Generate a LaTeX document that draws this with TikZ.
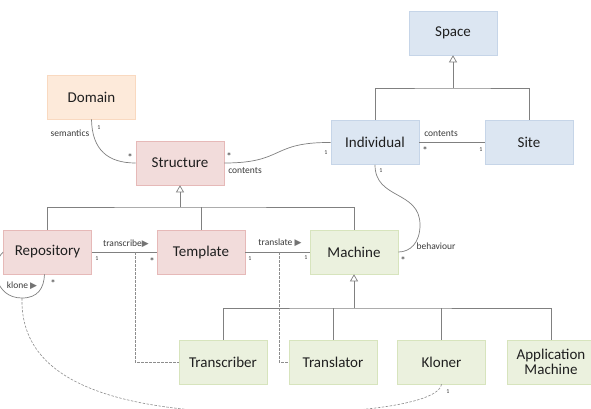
\documentclass[tikz,border=0pt]{standalone}
\usepackage{fontspec}
\setmainfont{Carlito}
\newfontfamily\symfont{DejaVu Sans}
\usetikzlibrary{arrows.meta}
\definecolor{txt}{HTML}{1F1F1F}
\definecolor{lbl}{HTML}{3A3A3A}
\definecolor{ln}{HTML}{808080}
\definecolor{orF}{HTML}{FDEADA}
\definecolor{orD}{HTML}{F9D9C0}
\definecolor{rdF}{HTML}{F2DCDB}
\definecolor{rdD}{HTML}{E6B9B8}
\definecolor{blF}{HTML}{DCE6F2}
\definecolor{blD}{HTML}{C6D5E8}
\definecolor{grF}{HTML}{EBF1DE}
\definecolor{grD}{HTML}{D7E4BD}
\tikzset{
  box/.style={draw, minimum width=88pt, minimum height=44pt, inner sep=0pt,
    font=\fontsize{15}{17}\selectfont, text=txt, line width=0.6pt, align=center},
  orbox/.style={box, fill=orF, draw=orD},
  rdbox/.style={box, fill=rdF, draw=rdD},
  blbox/.style={box, fill=blF, draw=blD},
  grbox/.style={box, fill=grF, draw=grD},
  conn/.style={draw=ln, line width=0.7pt},
  genarrow/.style={conn, -{Triangle[open, length=7pt, width=8pt, fill=white]}},
  dash line/.style={draw=ln!90, line width=0.6pt, dash pattern=on 2.5pt off 1.5pt},
  small/.style={inner sep=0pt, text=lbl, font=\fontsize{9.5}{11}\selectfont},
  mult/.style={inner sep=0pt, text=lbl, font=\fontsize{6}{7}\selectfont},
  star/.style={inner sep=0pt, text=lbl, font=\fontsize{11}{12}\selectfont},
}
\newcommand{\tri}{{\symfont\fontsize{9}{10}\selectfont\textcolor{ln!90!black}{▶}}}
\begin{document}
\begin{tikzpicture}[x=1pt,y=-1pt]
\useasboundingbox (0,0) rectangle (591,408);
\clip (0,0) rectangle (591,408);
\fill[white] (0,0) rectangle (591,408);

% boxes
\node[blbox] (space) at (453,33) {Space};
\node[orbox] (domain) at (91.5,97) {Domain};
\node[rdbox] (struct) at (180,163) {Structure};
\node[blbox] (ind) at (375,142.5) {Individual};
\node[blbox] (site) at (529,142.5) {Site};
\node[rdbox] (repo) at (47.5,252) {Repository};
\node[rdbox] (templ) at (201,252) {Template};
\node[grbox] (mach) at (354,252) {Machine};
\node[grbox] (transcr) at (223,362) {Transcriber};
\node[grbox] (transl) at (333,362) {Translator};
\node[grbox] (kloner) at (441.5,362) {Kloner};
\node[grbox] (appm) at (551,362) {Application\\[-2pt]Machine};

% generalizations
\coordinate (spj) at (453,88);
\draw[conn] (ind.north) |- (spj) -| (site.north);
\draw[genarrow] (spj) -- (space.south);

\coordinate (stj) at (180,207);
\draw[conn] (repo.north) |- (stj) -| (mach.north);
\draw[conn] (templ.north) -- (templ.north |- stj);
\draw[genarrow] (stj) -- (struct.south);

\coordinate (mj) at (354,308);
\draw[conn] (transcr.north) |- (mj) -| (appm.north);
\draw[conn] (transl.north) -- (transl.north |- mj);
\draw[conn] (kloner.north) -- (kloner.north |- mj);
\draw[genarrow] (mj) -- (mach.south);

% associations
\draw[conn] (domain.south) .. controls (92,150) and (108,163) .. (struct.west);
\node[small] (lsem) at (70,133) {semantics};
\node[mult] (m1) at (99,128) {1};
\node[star] (m2) at (130,158) {*};

\draw[conn] (struct.east) .. controls (285,163) and (270,142) .. (ind.west);
\node[star] (m3) at (229,157) {*};
\node[small] (lcont1) at (245,171) {contents};
\node[mult] (m4) at (326,153) {1};

\draw[conn] (ind.east) -- (site.west);
\node[small] (lcont2) at (441,134) {contents};
\node[star] (m5) at (425,151) {*};
\node[mult] (m6) at (481,150) {1};

\draw[conn] (ind.south) .. controls (375,200) and (420,190) .. (420,225)
  .. controls (420,243) and (410,252) .. (mach.east);
\node[mult] (m7) at (381,171) {1};
\node[small] (lbeh) at (436,246) {behaviour};
\node[star] (m8) at (403,261) {*};

\draw[conn] (repo.east) -- (templ.west);
\node[small] (ltrc) at (126,244) {transcribe\tri};
\node[mult] (m9) at (97,259) {1};
\node[star] (m10) at (152,262) {*};

\draw[conn] (templ.east) -- (mach.west);
\node[small] (ltrl) at (280,243) {translate \tri};
\node[mult] (m11) at (250,259) {1};
\node[mult] (m12) at (306,258) {1};

% klone self loop
\coordinate (kl) at (22,298);
\draw[conn] (repo.west) .. controls (-10,264) and (-6,298) .. (kl)
  .. controls (38,298) and (44,288) .. ([xshift=-3pt]repo.south);
\node[small] (lkl) at (22,286) {klone \tri};
\node[star] (m13) at (53,284) {*};

% dashed association classes
\coordinate (tc) at (135,252);
\coordinate (tl) at (279,252);
\draw[dash line] (tc) |- (transcr.west);
\draw[dash line] (tl) |- (transl.west);
\draw[dash line] (kl) .. controls (20,375) and (100,410) .. (250,413)
  .. controls (380,415) and (440,400) .. (kloner.south);
\node[mult] (m14) at (448,392) {1};
\end{tikzpicture}
\end{document}
